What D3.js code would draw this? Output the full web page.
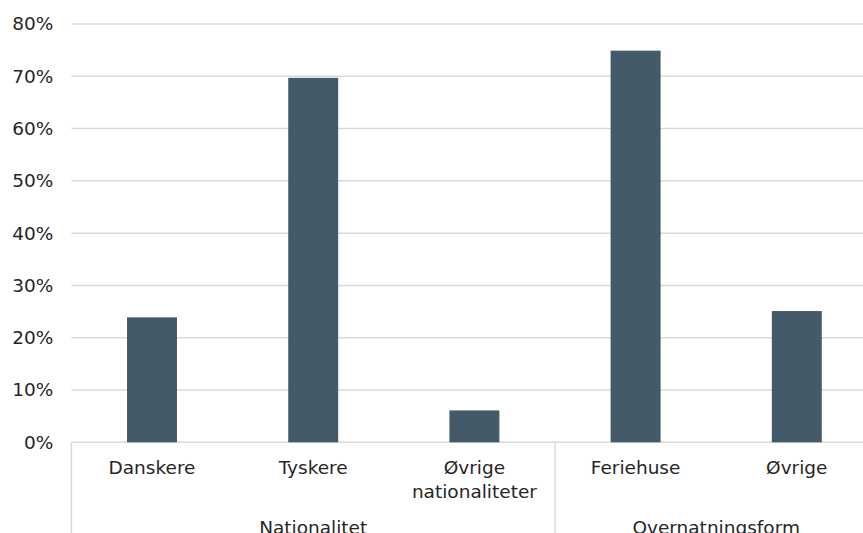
<!DOCTYPE html>
<html>
<head>
<meta charset="utf-8">
<script src="https://cdn.jsdelivr.net/npm/d3@7"></script>
<style>
  html, body { margin: 0; padding: 0; background: #fff; }
  svg { display: block; overflow: hidden; }
  text { font-family: "DejaVu Sans", Verdana, sans-serif; fill: #262626; }
</style>
</head>
<body>
<svg id="chart" width="863" height="533"></svg>
<script>
// Share of guests by nationality and by type of accommodation
const categories = ["Danskere", "Tyskere", "Øvrige\nnationaliteter", "Feriehuse", "Øvrige"];
const values = [0.239, 0.697, 0.061, 0.749, 0.251];
const groupNames = ["Nationalitet", "Overnatningsform"];
const groupSizes = [3, 2];
const yTicks = [0, 0.1, 0.2, 0.3, 0.4, 0.5, 0.6, 0.7, 0.8];

const svg = d3.select("#chart");
const plotLeft = 71.4, plotRight = 877.4, plotTop = 24, plotBottom = 442.3;
const fontSize = 18.5;

const x = d3.scaleBand()
  .domain(d3.range(categories.length))
  .range([plotLeft, plotRight])
  .paddingInner(0.69)
  .paddingOuter(0.345);

const y = d3.scaleLinear().domain([0, 0.8]).range([plotBottom, plotTop]);

const gridColor = "#d9d9d9";

// Horizontal gridlines
svg.append("g")
  .selectAll("line")
  .data(yTicks)
  .join("line")
  .attr("x1", plotLeft)
  .attr("x2", plotRight)
  .attr("y1", d => y(d))
  .attr("y2", d => y(d))
  .attr("stroke", gridColor)
  .attr("stroke-width", 1.5);

// Y axis labels
const yAxis = d3.axisLeft(y)
  .tickValues(yTicks)
  .tickFormat(d3.format(".0%"))
  .tickSize(0)
  .tickPadding(18);
const yg = svg.append("g").attr("transform", `translate(${plotLeft},0)`).call(yAxis);
yg.select(".domain").remove();
yg.selectAll("text")
  .attr("font-size", fontSize)
  .attr("font-family", "DejaVu Sans, Verdana, sans-serif")
  .attr("fill", "#262626");

// Bars
svg.append("g")
  .selectAll("rect")
  .data(values)
  .join("rect")
  .attr("x", (d, i) => x(i))
  .attr("width", x.bandwidth())
  .attr("y", d => y(d))
  .attr("height", d => y(0) - y(d))
  .attr("fill", "#445a69");

// Category labels (multi-line)
const catG = svg.append("g");
categories.forEach((c, i) => {
  const t = catG.append("text")
    .attr("x", x(i) + x.bandwidth() / 2)
    .attr("y", 474)
    .attr("text-anchor", "middle")
    .attr("font-size", fontSize);
  c.split("\n").forEach((line, k) => {
    t.append("tspan")
      .attr("x", x(i) + x.bandwidth() / 2)
      .attr("dy", k === 0 ? 0 : 23.5)
      .text(line);
  });
});

// Group separators and group labels
const step = x.step();
let start = 0;
const boundaries = [plotLeft];
groupNames.forEach((g, gi) => {
  const x0 = plotLeft + start * step;
  const x1 = plotLeft + (start + groupSizes[gi]) * step;
  svg.append("text")
    .attr("x", (x0 + x1) / 2)
    .attr("y", 534)
    .attr("text-anchor", "middle")
    .attr("font-size", fontSize)
    .text(g);
  start += groupSizes[gi];
  boundaries.push(x1);
});

svg.append("g")
  .selectAll("line")
  .data(boundaries)
  .join("line")
  .attr("x1", d => d)
  .attr("x2", d => d)
  .attr("y1", plotBottom)
  .attr("y2", 533)
  .attr("stroke", gridColor)
  .attr("stroke-width", 1.5);
</script>
</body>
</html>
